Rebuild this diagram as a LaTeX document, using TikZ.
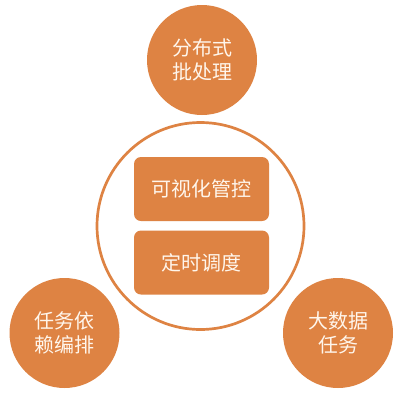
\documentclass[tikz,border=0pt]{standalone}
\usepackage{fontspec}
\newfontfamily\cjk{Noto Sans CJK SC}
\definecolor{org}{HTML}{DE8343}
\definecolor{txt}{HTML}{FFF6EC}
\begin{document}
\begin{tikzpicture}[x=1pt,y=-1pt,
  bubble/.style={circle,fill=org,minimum size=110pt,inner sep=0pt,text=txt,align=center,font=\cjk\fontsize{20}{23.5}\selectfont},
  tag/.style={rounded corners=7pt,fill=org,minimum width=135pt,minimum height=64pt,inner sep=0pt,text=txt,font=\cjk\fontsize{20}{23.5}\selectfont},
  ring/.style={circle,draw=org,line width=2.7pt,minimum size=207pt,inner sep=0pt}]
\useasboundingbox[fill=white] (0,0) rectangle (407,400);
\node[ring] (hub) at (200.5,226) {};
\node[bubble] (top) at (202,60) {分布式\\批处理};
\node[bubble] (left) at (64.5,333) {任务依\\赖编排};
\node[bubble] (right) at (338,333) {大数据\\任务};
\node[tag] (vis) at (201.5,189) {可视化管控};
\node[tag] (sch) at (201.5,262.5) {定时调度};
\end{tikzpicture}
\end{document}
